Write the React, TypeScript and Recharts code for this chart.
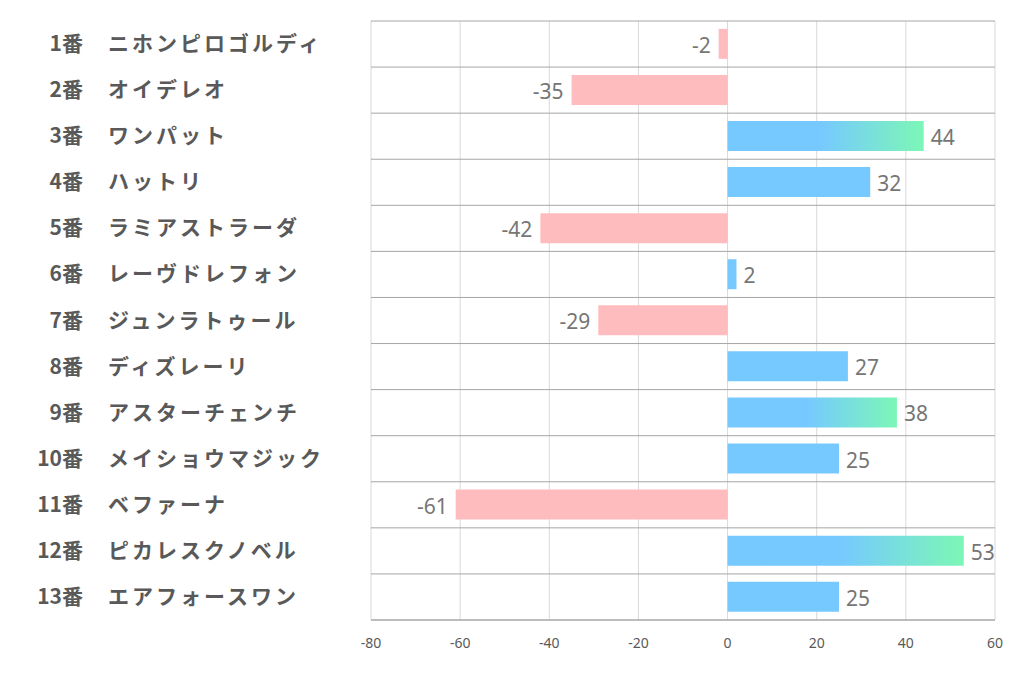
import React from "react"
import {
  BarChart,
  Bar,
  XAxis,
  YAxis,
  CartesianGrid,
  Cell,
  LabelList,
} from "recharts"

const horseNumbers = ["1番", "2番", "3番", "4番", "5番", "6番", "7番", "8番", "9番", "10番", "11番", "12番", "13番"]
const horseNames = [
  "ニホンピロゴルディ",
  "オイデレオ",
  "ワンパット",
  "ハットリ",
  "ラミアストラーダ",
  "レーヴドレフォン",
  "ジュンラトゥール",
  "ディズレーリ",
  "アスターチェンチ",
  "メイショウマジック",
  "ベファーナ",
  "ピカレスクノベル",
  "エアフォースワン",
]
const scores = [-2, -35, 44, 32, -42, 2, -29, 27, 38, 25, -61, 53, 25]
const highlighted = [false, false, true, false, false, false, false, false, true, false, false, true, false]
const xTicks = [-80, -60, -40, -20, 0, 20, 40, 60]

const data = horseNames.map((name, i) => ({
  label: horseNumbers[i] + "\u3000" + name,
  value: scores[i],
  hot: highlighted[i],
}))

const PINK = "#FFBCBE"
const BLUE = "#76C9FF"
const GREEN = "#7CF7B6"
const ROWS = data.length

function HorseTick(props: any) {
  const { y, payload } = props
  const [num, name] = String(payload.value).split("\u3000")
  const style = {
    fontFamily: "'Noto Sans CJK JP', sans-serif",
    fontWeight: 700,
    fontSize: 21,
    fill: "#595959",
  }
  return (
    <g>
      <text x={83} y={y} dy={7} textAnchor="end" style={style}>
        {num}
      </text>
      <text x={108} y={y} dy={7} textAnchor="start" style={{ ...style, letterSpacing: 3 }}>
        {name}
      </text>
    </g>
  )
}

function ValueLabel(props: any) {
  const { x, y, width, height, value } = props
  const neg = value < 0
  const end = neg ? Math.min(x, x + width) : Math.max(x, x + width)
  return (
    <text
      x={neg ? end - 8 : end + 7}
      y={y + height / 2}
      dy={9}
      textAnchor={neg ? "end" : "start"}
      style={{ fontFamily: "'Noto Sans', sans-serif", fontSize: 21, fill: "#767676" }}
    >
      {value}
    </text>
  )
}

export default function App() {
  return (
    <div style={{ position: "absolute", left: 0, top: 0, background: "#fff" }}>
      <BarChart
        width={1022}
        height={678}
        data={data}
        layout="vertical"
        margin={{ top: 21, right: 27, bottom: 28, left: 0 }}
        barCategoryGap="17%"
      >
        <defs>
          <linearGradient id="hotGrad" x1="0" y1="0" x2="1" y2="0">
            <stop offset="0%" stopColor={BLUE} />
            <stop offset="47%" stopColor={BLUE} />
            <stop offset="100%" stopColor={GREEN} />
          </linearGradient>
        </defs>
        <CartesianGrid horizontal={false} stroke="#D9D9D9" />
        <CartesianGrid
          vertical={false}
          stroke="#A6A6A6"
          horizontalCoordinatesGenerator={({ offset }: any) =>
            Array.from({ length: ROWS + 1 }, (_, i) => offset.top + (i * offset.height) / ROWS)
          }
        />
        <XAxis
          type="number"
          domain={[-80, 60]}
          ticks={xTicks}
          interval={0}
          axisLine={{ stroke: "#A6A6A6" }}
          tickLine={false}
          tickMargin={12}
          height={30}
          tick={{ fill: "#595959", fontSize: 14, fontFamily: "'Noto Sans', sans-serif" }}
        />
        <YAxis
          type="category"
          dataKey="label"
          width={371}
          axisLine={false}
          tickLine={false}
          interval={0}
          tick={<HorseTick />}
        />
        <Bar dataKey="value" isAnimationActive={false}>
          {data.map((d, i) => (
            <Cell key={i} fill={d.value < 0 ? PINK : d.hot ? "url(#hotGrad)" : BLUE} />
          ))}
          <LabelList dataKey="value" content={<ValueLabel />} />
        </Bar>
      </BarChart>
    </div>
  )
}
